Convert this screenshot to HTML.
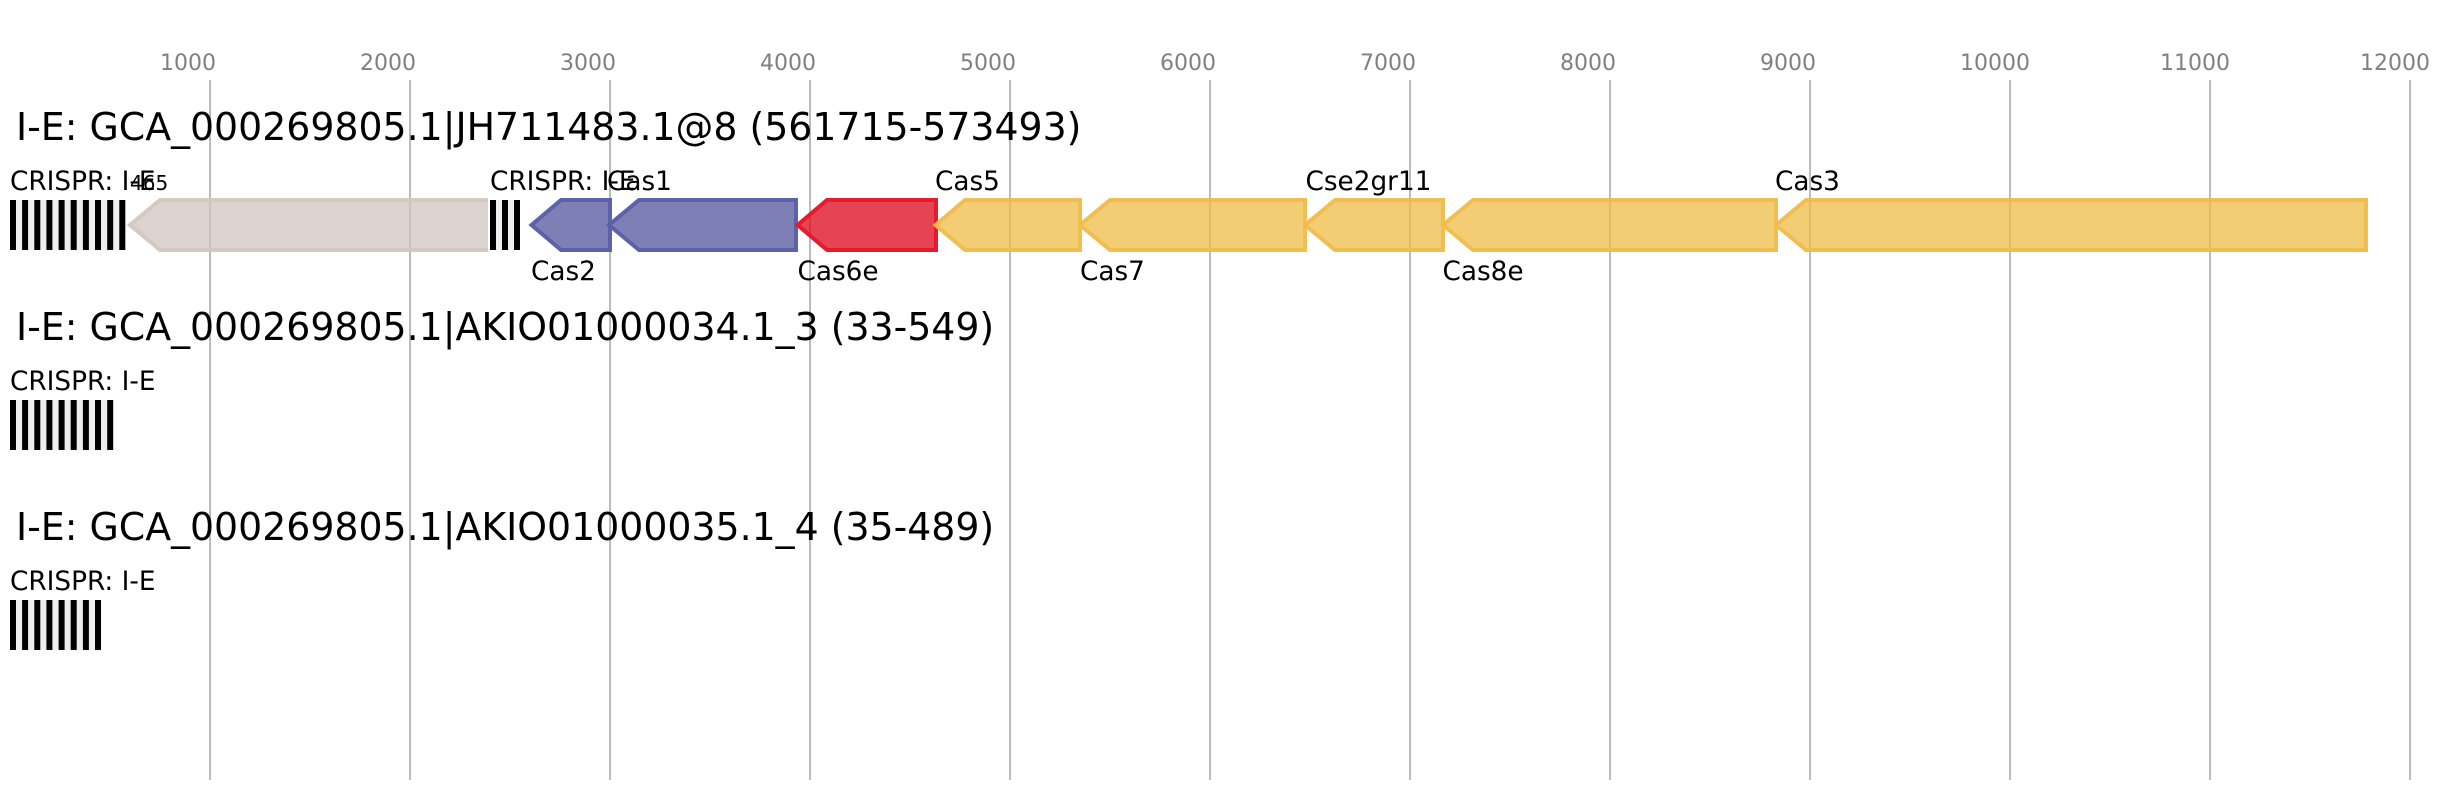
<!DOCTYPE html>
<html><head><meta charset="utf-8"><style>
html,body{margin:0;padding:0;background:#fff}
svg{display:block}
text{font-family:"DejaVu Sans",sans-serif;fill:#000}
.t{font-size:37.84px}.l{font-size:26.3px}.a{font-size:22px;fill:#808080}
.g{stroke:#bbb;stroke-width:2}
.y{fill:#edbc45;fill-opacity:.75;stroke:#f0bc4d;stroke-width:4;stroke-opacity:.97}
.b{fill:#53549c;fill-opacity:.75;stroke:#5c60a9;stroke-width:4;stroke-opacity:.98}
.r{fill:#df051a;fill-opacity:.75;stroke:#e31a2b;stroke-width:4;stroke-opacity:.98}
.n{fill:#d0c4bd;fill-opacity:.75;stroke:none}
.ns{fill:none;stroke:#d3c8c0;stroke-width:4;stroke-opacity:.97}
</style></head><body>
<svg xmlns="http://www.w3.org/2000/svg" width="2456" height="800" viewBox="0 0 2456 800">
<g class="g">
<line x1="210" y1="80" x2="210" y2="780"/><line x1="410" y1="80" x2="410" y2="780"/><line x1="610" y1="80" x2="610" y2="780"/><line x1="810" y1="80" x2="810" y2="780"/><line x1="1010" y1="80" x2="1010" y2="780"/><line x1="1210" y1="80" x2="1210" y2="780"/><line x1="1410" y1="80" x2="1410" y2="780"/><line x1="1610" y1="80" x2="1610" y2="780"/><line x1="1810" y1="80" x2="1810" y2="780"/><line x1="2010" y1="80" x2="2010" y2="780"/><line x1="2210" y1="80" x2="2210" y2="780"/><line x1="2410" y1="80" x2="2410" y2="780"/>
</g>
<g class="a">
<text class="a" x="160" y="70">1000</text><text class="a" x="360" y="70">2000</text><text class="a" x="560" y="70">3000</text><text class="a" x="760" y="70">4000</text><text class="a" x="960" y="70">5000</text><text class="a" x="1160" y="70">6000</text><text class="a" x="1360" y="70">7000</text><text class="a" x="1560" y="70">8000</text><text class="a" x="1760" y="70">9000</text><text class="a" x="1960" y="70">10000</text><text class="a" x="2160" y="70">11000</text><text class="a" x="2360" y="70">12000</text>
</g>
<text class="t" x="16" y="140">I-E: GCA_000269805.1|JH711483.1@8 (561715-573493)</text>
<text class="t" x="16" y="340">I-E: GCA_000269805.1|AKIO01000034.1_3 (33-549)</text>
<text class="t" x="16" y="540">I-E: GCA_000269805.1|AKIO01000035.1_4 (35-489)</text>

<rect x="10" y="200" width="115.4" height="50" fill="#eee"/>
<g fill="#000"><rect x="10" y="200" width="6" height="50"/><rect x="22.1" y="200" width="6" height="50"/><rect x="34.3" y="200" width="6" height="50"/><rect x="46.4" y="200" width="6" height="50"/><rect x="58.6" y="200" width="6" height="50"/><rect x="70.7" y="200" width="6" height="50"/><rect x="82.9" y="200" width="6" height="50"/><rect x="95" y="200" width="6" height="50"/><rect x="107.2" y="200" width="6" height="50"/><rect x="119.3" y="200" width="6" height="50"/></g>
<rect x="490" y="200" width="30" height="50" fill="#eee"/>
<g fill="#000"><rect x="490" y="200" width="6" height="50"/><rect x="502" y="200" width="6" height="50"/><rect x="514" y="200" width="6" height="50"/></g>

<rect x="10" y="400" width="103.3" height="50" fill="#eee"/>
<g fill="#000"><rect x="10" y="400" width="6" height="50"/><rect x="22.1" y="400" width="6" height="50"/><rect x="34.3" y="400" width="6" height="50"/><rect x="46.4" y="400" width="6" height="50"/><rect x="58.6" y="400" width="6" height="50"/><rect x="70.7" y="400" width="6" height="50"/><rect x="82.9" y="400" width="6" height="50"/><rect x="95" y="400" width="6" height="50"/><rect x="107.2" y="400" width="6" height="50"/></g>
<rect x="10" y="600" width="91" height="50" fill="#eee"/>
<g fill="#000"><rect x="10" y="600" width="6" height="50"/><rect x="22.1" y="600" width="6" height="50"/><rect x="34.3" y="600" width="6" height="50"/><rect x="46.4" y="600" width="6" height="50"/><rect x="58.6" y="600" width="6" height="50"/><rect x="70.7" y="600" width="6" height="50"/><rect x="82.9" y="600" width="6" height="50"/><rect x="95" y="600" width="6" height="50"/></g>

<polygon class="n" points="488,200 160,200 130,225 160,250 488,250"/>
<polyline class="ns" points="488,200 160,200 130,225 160,250 488,250"/>
<polygon class="b" points="610,200 561,200 531.5,225 561,250 610,250"/>
<polygon class="b" points="796,200 639,200 609,225 639,250 796,250"/>
<polygon class="r" points="936,200 827,200 797.5,225 827,250 936,250"/>
<polygon class="y" points="1080,200 965,200 935.5,225 965,250 1080,250"/>
<polygon class="y" points="1305,200 1110,200 1080,225 1110,250 1305,250"/>
<polygon class="y" points="1443,200 1335,200 1305,225 1335,250 1443,250"/>
<polygon class="y" points="1776,200 1473,200 1443,225 1473,250 1776,250"/>
<polygon class="y" points="2366,200 1806,200 1776,225 1806,250 2366,250"/>

<text class="l" x="10" y="190">CRISPR: I-E</text>
<text x="130" y="190" font-size="20">465</text>
<text class="l" x="490" y="190">CRISPR: I-E</text>
<text class="l" x="607" y="190">Cas1</text>
<text class="l" x="935" y="190">Cas5</text>
<text class="l" x="1305.5" y="190">Cse2gr11</text>
<text class="l" x="1775" y="190">Cas3</text>
<text class="l" x="531" y="280">Cas2</text>
<text class="l" x="797.5" y="280">Cas6e</text>
<text class="l" x="1080" y="280">Cas7</text>
<text class="l" x="1442.5" y="280">Cas8e</text>
<text class="l" x="10" y="390">CRISPR: I-E</text>
<text class="l" x="10" y="590">CRISPR: I-E</text>
</svg>
</body></html>
